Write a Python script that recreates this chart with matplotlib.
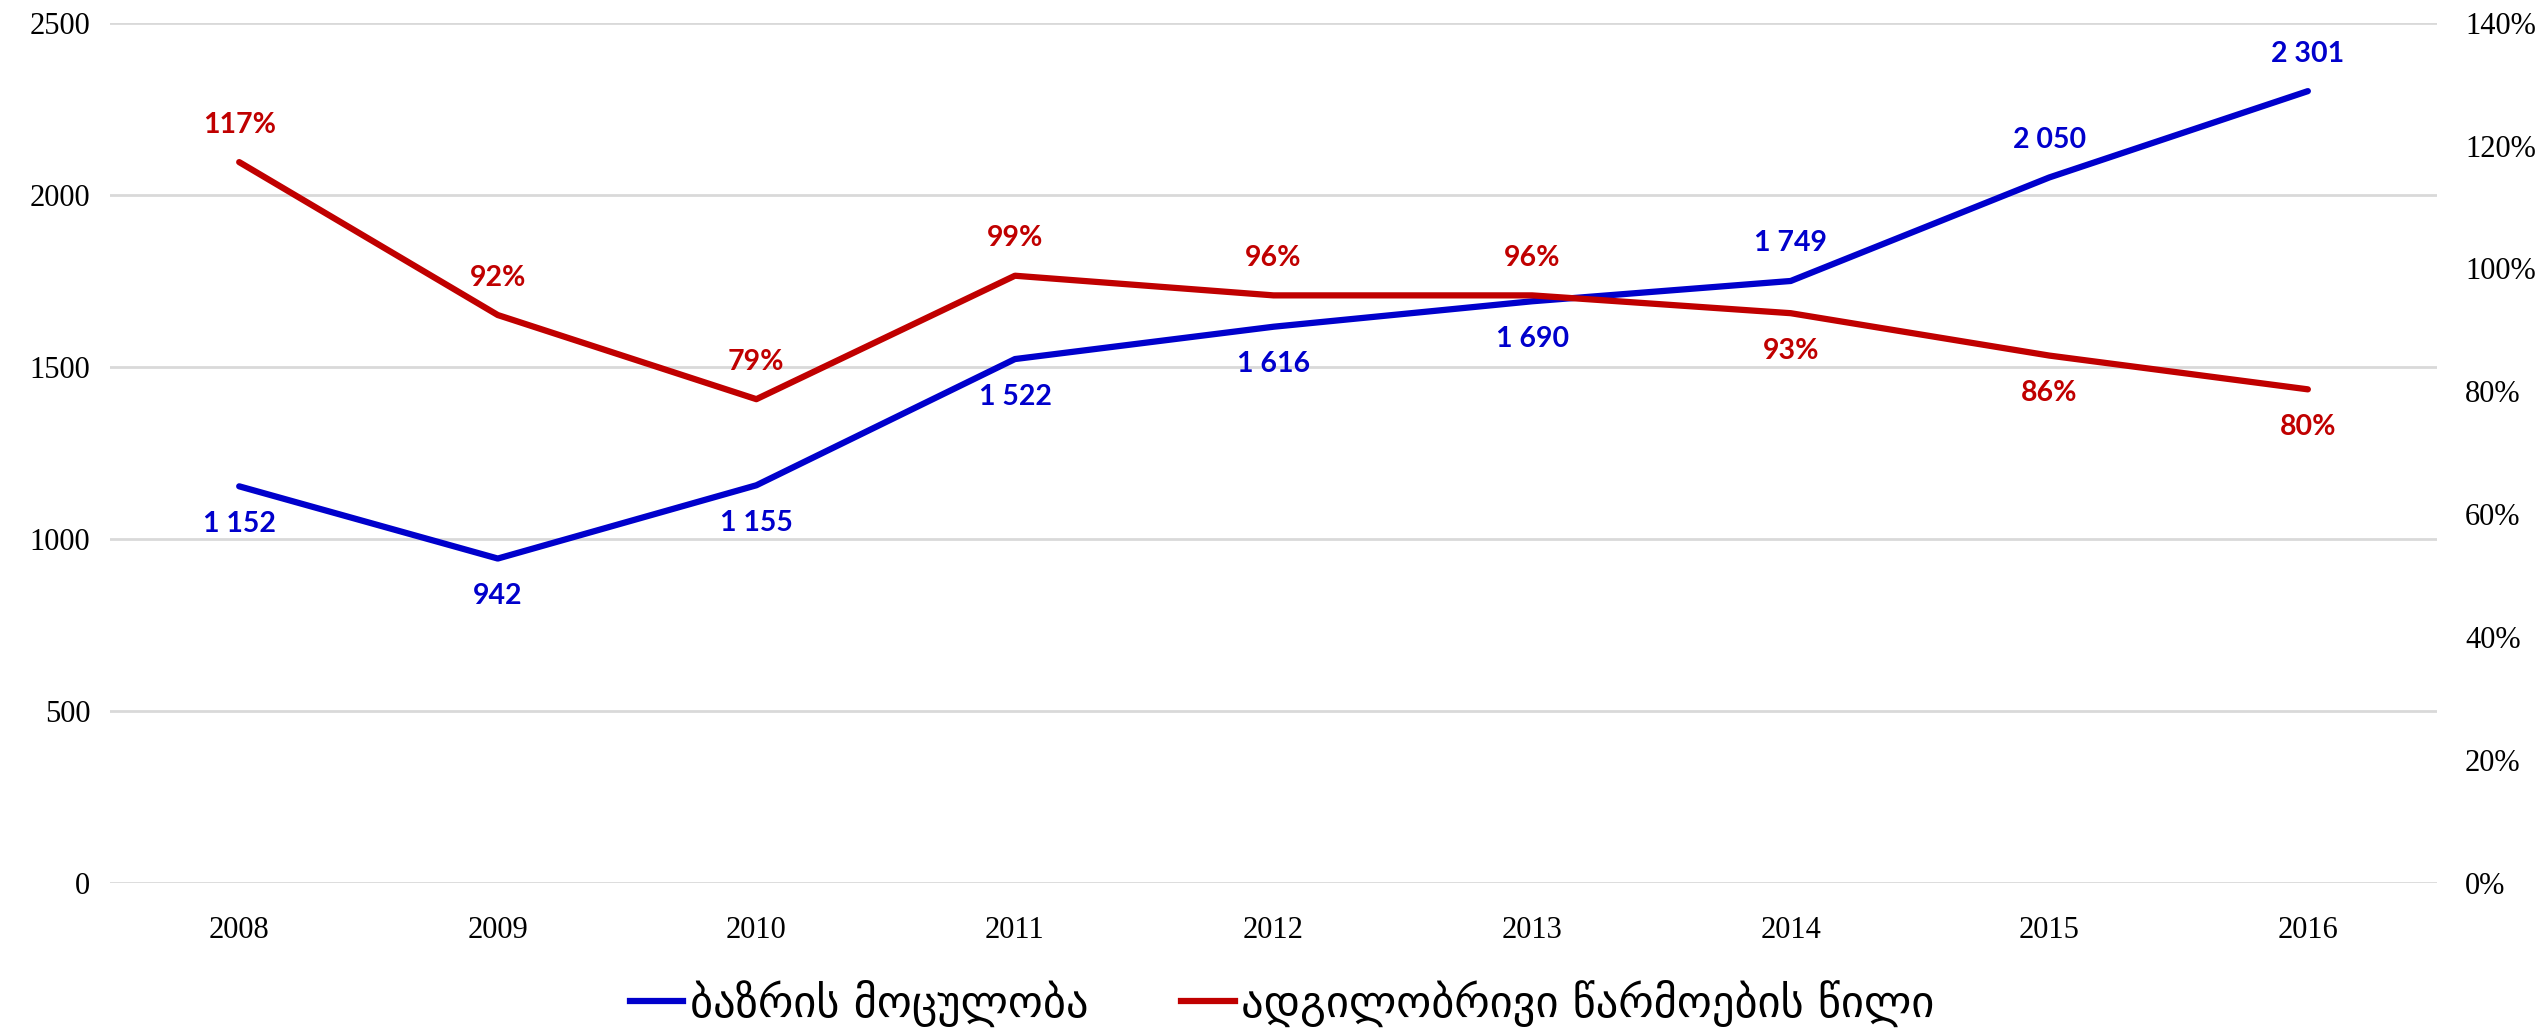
import matplotlib
matplotlib.use("Agg")
import matplotlib.pyplot as plt
from matplotlib import font_manager as fm
from matplotlib.lines import Line2D

years = ["2008", "2009", "2010", "2011", "2012", "2013", "2014", "2015", "2016"]
market_volume = [1152, 942, 1155, 1522, 1616, 1690, 1749, 2050, 2301]
local_share = [117.3, 92.4, 78.7, 98.8, 95.6, 95.6, 92.7, 85.8, 80.3]
volume_label_pos = ["below", "below", "below", "below", "below", "below", "above", "above", "above"]
share_label_pos = ["above", "above", "above", "above", "above", "above", "below", "below", "below"]
left_ticks = [0, 500, 1000, 1500, 2000, 2500]
right_ticks = [0, 20, 40, 60, 80, 100, 120, 140]
legend_labels = ["ბაზრის მოცულობა", "ადგილობრივი წარმოების წილი"]

names = {f.name for f in fm.fontManager.ttflist}
label_font = "Liberation Sans Narrow" if "Liberation Sans Narrow" in names else "Lato"

BLUE = "#0000CC"
RED = "#C00000"

fig = plt.figure(figsize=(25.44, 10.31), dpi=100)
ax = fig.add_axes([0.0432, 0.144, 0.9148, 0.834])
ax2 = ax.twinx()

x = list(range(len(years)))
ax.plot(x, market_volume, color=BLUE, lw=4.5, solid_capstyle="round", zorder=3)
ax2.plot(x, local_share, color=RED, lw=4.5, solid_capstyle="round", zorder=3)

ax.set_xlim(-0.5, 8.5)
ax.set_ylim(0, 2500)
ax2.set_ylim(0, 140)
ax.set_yticks(left_ticks)
ax2.set_yticks(right_ticks)
ax2.set_yticklabels([f"{t}%" for t in right_ticks])
ax.set_xticks(x)
ax.set_xticklabels(years)

for lab in ax.get_xticklabels() + ax.get_yticklabels() + ax2.get_yticklabels():
    lab.set_fontfamily("Liberation Serif")
    lab.set_fontsize(22)
    lab.set_color("#000000")
ax.tick_params(axis="both", length=0)
ax.tick_params(axis="y", pad=14)
ax.tick_params(axis="x", pad=24)
ax2.tick_params(axis="y", length=0, pad=20)

ax.grid(axis="y", color="#d9d9d9", lw=2)
ax.set_axisbelow(True)
for a in (ax, ax2):
    for s in a.spines.values():
        s.set_visible(False)

def fmt_num(v):
    return f"{v:,}".replace(",", " ")

off = 27
for i, v in enumerate(market_volume):
    dy = off if volume_label_pos[i] == "above" else -off
    ax.annotate(fmt_num(v), (i, v), xytext=(0, dy), textcoords="offset points",
                ha="center", va="center", color=BLUE, fontsize=20.5,
                fontweight="bold", family=label_font, zorder=5)
for i, v in enumerate(local_share):
    dy = off if share_label_pos[i] == "above" else -off
    ax2.annotate(f"{round(v)}%", (i, v), xytext=(0, dy), textcoords="offset points",
                 ha="center", va="center", color=RED, fontsize=20.5,
                 fontweight="bold", family=label_font, zorder=5)

handles = [Line2D([], [], color=BLUE, lw=4.5), Line2D([], [], color=RED, lw=4.5)]
fig.legend(handles, legend_labels, loc="center", bbox_to_anchor=(0.504, 0.027),
           ncol=2, frameon=False, prop=dict(family="DejaVu Sans", size=32),
           handlelength=1.2, handletextpad=0.15, columnspacing=2.1)

fig.savefig("out.png", dpi=100)
